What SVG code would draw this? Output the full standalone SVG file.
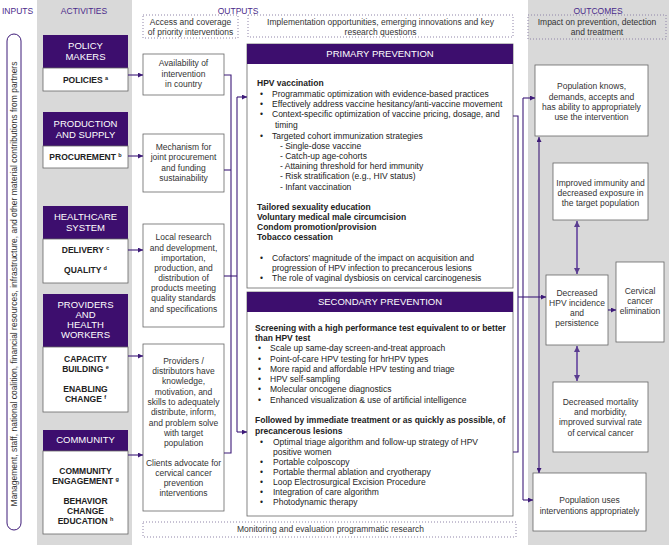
<svg xmlns="http://www.w3.org/2000/svg" width="669" height="545" viewBox="0 0 669 545">
<style>
text{font-family:"Liberation Sans",Arial,sans-serif;font-size:8.5px;fill:#222}
.col{fill:#d9d9d9}
.hd{fill:#4a2a8a;font-size:8.5px}
.c{text-anchor:middle}
.hdr{fill:#3d0e6e}
.wt{fill:#fff;stroke:#666;stroke-width:0.8}
.ht{fill:#fff;font-size:9.5px;text-anchor:middle}
.b{font-weight:bold}
.sup{font-size:5.5px}
.dot{fill:none;stroke:#8f84a8;stroke-width:1;stroke-dasharray:1,2}
.ln{fill:none;stroke:#3d1a78;stroke-width:1.1}
.dbl{fill:none;stroke:#7a60aa;stroke-width:2}
.ob{fill:#fff;stroke:#666;stroke-width:0.8}
.t{fill:#333}
</style>
<defs>
<marker id="ah" viewBox="0 0 6 6" refX="6" refY="3" markerWidth="5" markerHeight="5" orient="auto" markerUnits="userSpaceOnUse"><path d="M0,0 L6,3 L0,6 z" fill="#3d1a78"/></marker>
<marker id="ah2" viewBox="0 0 6 6" refX="6" refY="3" markerWidth="6" markerHeight="6" orient="auto-start-reverse" markerUnits="userSpaceOnUse"><path d="M0,0 L6,3 L0,6 z" fill="#5a3d8f"/></marker>
</defs>
<rect width="669" height="545" fill="#fff"/>
<rect class="col" x="37" y="0" width="95" height="545"/>
<rect class="col" x="528" y="0" width="141" height="545"/>

<g id="headers">
<text class="hd" x="2" y="14">INPUTS</text>
<text class="hd c" x="84" y="14">ACTIVITIES</text>
<text class="hd c" x="238" y="14">OUTPUTS</text>
<text class="hd c" x="598" y="14">OUTCOMES</text>
</g>

<g id="dotted-labels">
<rect class="dot" x="143" y="15" width="95" height="23"/>
<text class="c t" x="190.5" y="25">Access and coverage</text>
<text class="c t" x="190.5" y="35">of priority interventions</text>
<rect class="dot" x="248" y="15" width="265" height="22"/>
<text class="c t" x="380.5" y="25">Implementation opportunities, emerging innovations and key</text>
<text class="c t" x="380.5" y="35">research questions</text>
<rect class="dot" x="528" y="15" width="138" height="24"/>
<text class="c t" x="597" y="25">Impact on prevention, detection</text>
<text class="c t" x="597" y="35">and treatment</text>
<rect class="dot" x="143" y="522" width="373" height="15"/>
<text class="t" x="237" y="532">Monitoring and evaluation programmatic research</text>
</g>

<g id="inputs">
<rect x="7" y="34" width="14" height="496" rx="7" fill="#fff" stroke="#3d1a78" stroke-width="1"/>
<text class="c t" transform="translate(16.5,284) rotate(-90)" x="0" y="0">Management, staff, national coalition, financial resources, infrastructure, and other material contributions from partners</text>
</g>

<g id="act-policy">
<rect class="hdr" x="43" y="35" width="85" height="33"/>
<rect class="wt" x="43" y="68" width="85" height="23"/>
<text class="ht" x="85.5" y="49">POLICY</text>
<text class="ht" x="85.5" y="60">MAKERS</text>
<text class="b c" x="85.5" y="83">POLICIES <tspan class="sup" dy="-3">a</tspan></text>
</g>
<g id="act-production">
<rect class="hdr" x="43" y="112" width="85" height="34"/>
<rect class="wt" x="43" y="146" width="85" height="22"/>
<text class="ht" x="85.5" y="127">PRODUCTION</text>
<text class="ht" x="85.5" y="138">AND SUPPLY</text>
<text class="b c" x="85.5" y="160">PROCUREMENT <tspan class="sup" dy="-3">b</tspan></text>
</g>
<g id="act-healthcare">
<rect class="hdr" x="43" y="206" width="85" height="33"/>
<rect class="wt" x="43" y="239" width="85" height="44"/>
<text class="ht" x="85.5" y="220">HEALTHCARE</text>
<text class="ht" x="85.5" y="231">SYSTEM</text>
<text class="b c" x="85.5" y="253">DELIVERY <tspan class="sup" dy="-3">c</tspan></text>
<text class="b c" x="85.5" y="273">QUALITY <tspan class="sup" dy="-3">d</tspan></text>
</g>
<g id="act-providers">
<rect class="hdr" x="43" y="294" width="85" height="53"/>
<rect class="wt" x="43" y="347" width="85" height="65"/>
<text class="ht" x="85.5" y="308">PROVIDERS</text>
<text class="ht" x="85.5" y="318">AND</text>
<text class="ht" x="85.5" y="328">HEALTH</text>
<text class="ht" x="85.5" y="338">WORKERS</text>
<text class="b c" x="85.5" y="362">CAPACITY</text>
<text class="b c" x="85.5" y="372">BUILDING <tspan class="sup" dy="-3">e</tspan></text>
<text class="b c" x="85.5" y="392">ENABLING</text>
<text class="b c" x="85.5" y="402">CHANGE <tspan class="sup" dy="-3">f</tspan></text>
</g>
<g id="act-community">
<rect class="hdr" x="43" y="430" width="85" height="21"/>
<rect class="wt" x="43" y="451" width="85" height="83"/>
<text class="ht" x="85.5" y="443">COMMUNITY</text>
<text class="b c" x="85.5" y="474">COMMUNITY</text>
<text class="b c" x="85.5" y="484">ENGAGEMENT <tspan class="sup" dy="-3">g</tspan></text>
<text class="b c" x="85.5" y="504">BEHAVIOR</text>
<text class="b c" x="85.5" y="514">CHANGE</text>
<text class="b c" x="85.5" y="524">EDUCATION <tspan class="sup" dy="-3">h</tspan></text>
</g>

<g id="out-availability">
<rect class="ob" x="143" y="54" width="81" height="41"/>
<text class="c t" x="183.5" y="66">Availability of</text>
<text class="c t" x="183.5" y="77">intervention</text>
<text class="c t" x="183.5" y="87">in country</text>
</g>
<g id="out-mechanism">
<rect class="ob" x="143" y="134" width="81" height="58"/>
<text class="c t" x="183.5" y="150">Mechanism for</text>
<text class="c t" x="183.5" y="160">joint procurement</text>
<text class="c t" x="183.5" y="171">and funding</text>
<text class="c t" x="183.5" y="181">sustainability</text>
</g>
<g id="out-local">
<rect class="ob" x="143" y="224" width="81" height="103"/>
<text class="c t" x="183.5" y="240">Local research</text>
<text class="c t" x="183.5" y="251">and development,</text>
<text class="c t" x="183.5" y="261">importation,</text>
<text class="c t" x="183.5" y="271">production, and</text>
<text class="c t" x="183.5" y="281">distribution of</text>
<text class="c t" x="183.5" y="291">products meeting</text>
<text class="c t" x="183.5" y="301">quality standards</text>
<text class="c t" x="183.5" y="312">and specifications</text>
</g>
<g id="out-providers">
<rect class="ob" x="143" y="344" width="81" height="167"/>
<text class="c t" x="183.5" y="364">Providers /</text>
<text class="c t" x="183.5" y="374">distributors have</text>
<text class="c t" x="183.5" y="384">knowledge,</text>
<text class="c t" x="183.5" y="395">motivation, and</text>
<text class="c t" x="183.5" y="405">skills to adequately</text>
<text class="c t" x="183.5" y="415">distribute, inform,</text>
<text class="c t" x="183.5" y="426">and problem solve</text>
<text class="c t" x="183.5" y="436">with target</text>
<text class="c t" x="183.5" y="446">population</text>
<text class="c t" x="183.5" y="466">Clients advocate for</text>
<text class="c t" x="183.5" y="476">cervical cancer</text>
<text class="c t" x="183.5" y="486">prevention</text>
<text class="c t" x="183.5" y="496">interventions</text>
</g>

<g id="primary">
<rect class="ob" x="247" y="44" width="266" height="244"/>
<rect class="hdr" x="247" y="44" width="266" height="20"/>
<text class="ht" x="380" y="57">PRIMARY PREVENTION</text>
<text class="b" x="257" y="86">HPV vaccination</text>
<text x="260" y="97">•</text><text x="272" y="97">Programmatic optimization with evidence-based practices</text>
<text x="260" y="107">•</text><text x="272" y="107">Effectively address vaccine hesitancy/anti-vaccine movement</text>
<text x="260" y="117">•</text><text x="272" y="117">Context-specific optimization of vaccine pricing, dosage, and</text>
<text x="275" y="128">timing</text>
<text x="260" y="139">•</text><text x="272" y="139">Targeted cohort immunization strategies</text>
<text x="280" y="149">- Single-dose vaccine</text>
<text x="280" y="159">- Catch-up age-cohorts</text>
<text x="280" y="169">- Attaining threshold for herd immunity</text>
<text x="280" y="179">- Risk stratification (e.g., HIV status)</text>
<text x="280" y="190">- Infant vaccination</text>
<text class="b" x="257" y="210">Tailored sexuality education</text>
<text class="b" x="257" y="220">Voluntary medical male circumcision</text>
<text class="b" x="257" y="230">Condom promotion/provision</text>
<text class="b" x="257" y="240">Tobacco cessation</text>
<text x="260" y="261">•</text><text x="272" y="261">Cofactors’ magnitude of the impact on acquisition and</text>
<text x="272" y="271">progression of HPV infection to precancerous lesions</text>
<text x="260" y="281">•</text><text x="272" y="281">The role of vaginal dysbiosis on cervical carcinogenesis</text>
</g>

<g id="secondary">
<rect class="ob" x="247" y="292" width="266" height="224"/>
<rect class="hdr" x="247" y="292" width="266" height="20"/>
<text class="ht" x="380" y="305">SECONDARY PREVENTION</text>
<text class="b" x="255" y="331">Screening with a high performance test equivalent to or better</text>
<text class="b" x="255" y="341">than HPV test</text>
<text x="258" y="351">•</text><text x="270" y="351">Scale up same-day screen-and-treat approach</text>
<text x="258" y="362">•</text><text x="270" y="362">Point-of-care HPV testing for hrHPV types</text>
<text x="258" y="372">•</text><text x="270" y="372">More rapid and affordable HPV testing and triage</text>
<text x="258" y="382">•</text><text x="270" y="382">HPV self-sampling</text>
<text x="258" y="392">•</text><text x="270" y="392">Molecular oncogene diagnostics</text>
<text x="258" y="403">•</text><text x="270" y="403">Enhanced visualization &amp; use of artificial intelligence</text>
<text class="b" x="255" y="423">Followed by immediate treatment or as quickly as possible, of</text>
<text class="b" x="255" y="434">precancerous lesions</text>
<text x="260" y="445">•</text><text x="273" y="445">Optimal triage algorithm and follow-up strategy of HPV</text>
<text x="273" y="455">positive women</text>
<text x="260" y="465">•</text><text x="273" y="465">Portable colposcopy</text>
<text x="260" y="475">•</text><text x="273" y="475">Portable thermal ablation and cryotherapy</text>
<text x="260" y="485">•</text><text x="273" y="485">Loop Electrosurgical Excision Procedure</text>
<text x="260" y="495">•</text><text x="273" y="495">Integration of care algorithm</text>
<text x="260" y="505">•</text><text x="273" y="505">Photodynamic therapy</text>
</g>

<g id="oc-knows">
<rect class="ob" x="535" y="65" width="113" height="71"/>
<text class="c t" x="591.5" y="89">Population  knows,</text>
<text class="c t" x="591.5" y="100">demands, accepts and</text>
<text class="c t" x="591.5" y="110">has ability to appropriately</text>
<text class="c t" x="591.5" y="120">use the intervention</text>
</g>
<g id="oc-immunity">
<rect class="ob" x="553" y="163" width="95" height="57"/>
<text class="c t" x="600.5" y="186">Improved immunity and</text>
<text class="c t" x="600.5" y="196">decreased exposure in</text>
<text class="c t" x="600.5" y="206">the target population</text>
</g>
<g id="oc-incidence">
<rect class="ob" x="546" y="275" width="62" height="70"/>
<text class="c t" x="577" y="296">Decreased</text>
<text class="c t" x="577" y="306">HPV incidence</text>
<text class="c t" x="577" y="316">and</text>
<text class="c t" x="577" y="326">persistence</text>
</g>
<g id="oc-elimination">
<rect class="ob" x="616" y="262" width="48" height="80"/>
<text class="c t" x="640" y="294">Cervical</text>
<text class="c t" x="640" y="304">cancer</text>
<text class="c t" x="640" y="314">elimination</text>
</g>
<g id="oc-mortality">
<rect class="ob" x="553" y="382" width="95" height="70"/>
<text class="c t" x="600.5" y="405">Decreased mortality</text>
<text class="c t" x="600.5" y="415">and morbidity,</text>
<text class="c t" x="600.5" y="425">improved survival rate</text>
<text class="c t" x="600.5" y="436">of cervical cancer</text>
</g>
<g id="oc-uses">
<rect class="ob" x="533" y="473" width="113" height="58"/>
<text class="c t" x="589.5" y="503">Population uses</text>
<text class="c t" x="589.5" y="514">interventions appropriately</text>
</g>

<g id="connectors">
<path class="ln" d="M128,75 H143" marker-end="url(#ah)"/>
<path class="ln" d="M128,156 H143" marker-end="url(#ah)"/>
<path class="ln" d="M128,250 H143" marker-end="url(#ah)"/>
<path class="ln" d="M128,356 H143" marker-end="url(#ah)"/>
<path class="ln" d="M128,455 H143" marker-end="url(#ah)"/>
<path class="ln" d="M224,75 H231 V453 H224"/>
<path class="ln" d="M224,170 H231"/>
<path class="ln" d="M224,276 H237"/>
<path class="ln" d="M237,97 V432"/>
<path class="ln" d="M237,97 H247" marker-end="url(#ah)"/>
<path class="ln" d="M237,432 H247" marker-end="url(#ah)"/>
<path class="ln" d="M513,116 H518 V452 H513"/>
<path class="ln" d="M518,297 H546" marker-end="url(#ah)"/>
<path class="ln" d="M523,98 V500"/>
<path class="ln" d="M523,98 H535" marker-end="url(#ah)"/>
<path class="ln" d="M523,500 H533" marker-end="url(#ah)"/>
<path class="ln" d="M539,300 V137" marker-end="url(#ah)"/>
<path class="ln" d="M539,300 V473" marker-end="url(#ah)"/>
<path class="ln" d="M608,310 H616" marker-end="url(#ah)"/>
<path class="dbl" d="M577,221 V274" marker-start="url(#ah2)" marker-end="url(#ah2)"/>
<path class="dbl" d="M577,346 V381" marker-start="url(#ah2)" marker-end="url(#ah2)"/>
</g>
</svg>
